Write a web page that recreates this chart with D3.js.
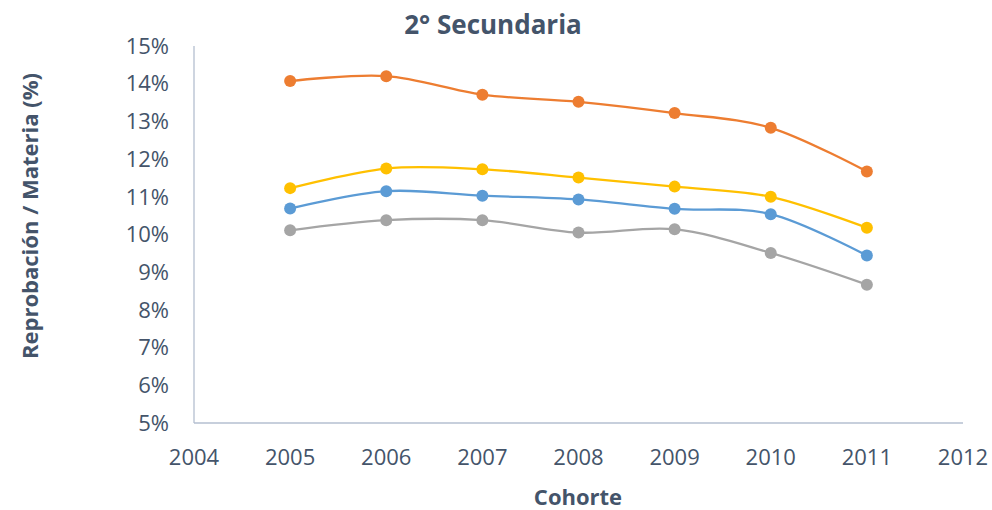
<!DOCTYPE html>
<html><head><meta charset="utf-8">
<script src="https://cdn.jsdelivr.net/npm/d3@7"></script>
<style>body{margin:0;background:#fff;} text{font-family:"Open Sans",sans-serif;fill:#44546A;}</style>
</head><body>
<svg id="c" width="992" height="510"></svg>
<script>
const years = [2005, 2006, 2007, 2008, 2009, 2010, 2011];
const serieNaranja = [14.07, 14.20, 13.71, 13.52, 13.22, 12.83, 11.67];
const serieAmarilla = [11.23, 11.75, 11.73, 11.51, 11.27, 11.00, 10.18];
const serieAzul = [10.69, 11.15, 11.03, 10.93, 10.68, 10.54, 9.44];
const serieGris = [10.11, 10.38, 10.38, 10.05, 10.14, 9.51, 8.67];
const xTicks = [2004, 2005, 2006, 2007, 2008, 2009, 2010, 2011, 2012];
const yTicks = [5, 6, 7, 8, 9, 10, 11, 12, 13, 14, 15];

const series = [
  {values: serieGris, color: "#A5A5A5"},
  {values: serieAzul, color: "#5B9BD5"},
  {values: serieAmarilla, color: "#FFC000"},
  {values: serieNaranja, color: "#ED7D31"}
];

const svg = d3.select("#c");
const x = d3.scaleLinear().domain([2004, 2012]).range([194, 963]);
const y = d3.scaleLinear().domain([5, 15]).range([423, 46]);

// axes
const axisColor = "#B4BFD0";
svg.append("line").attr("x1", x(2004)).attr("x2", x(2012)).attr("y1", y(5)).attr("y2", y(5))
  .attr("stroke", axisColor).attr("stroke-width", 1.3);
svg.append("line").attr("x1", x(2004)).attr("x2", x(2004)).attr("y1", y(5)).attr("y2", y(15))
  .attr("stroke", axisColor).attr("stroke-width", 1.3);

svg.selectAll(".yt").data(yTicks).enter().append("text")
  .attr("x", 169).attr("y", d => y(d)).attr("dy", "0.35em")
  .attr("text-anchor", "end").style("font-size", "22px").text(d => d + "%");
svg.selectAll(".xt").data(xTicks).enter().append("text")
  .attr("x", d => x(d)).attr("y", 457).attr("dy", "0.35em")
  .attr("text-anchor", "middle").style("font-size", "22px").text(d => d);

// lines
const line = d3.line().x((d, i) => x(years[i])).y(d => y(d)).curve(d3.curveCardinal.tension(0));
series.forEach(s => {
  svg.append("path").attr("d", line(s.values)).attr("fill", "none")
    .attr("stroke", s.color).attr("stroke-width", 2.3);
  svg.selectAll(null).data(s.values).enter().append("circle")
    .attr("cx", (d, i) => x(years[i])).attr("cy", d => y(d)).attr("r", 6)
    .attr("fill", s.color);
});

// titles
svg.append("text").attr("x", 493).attr("y", 25).attr("dy", "0.35em").attr("text-anchor", "middle")
  .style("font-size", "26px").style("font-weight", "bold").text("2° Secundaria");
svg.append("text").attr("x", 578).attr("y", 497).attr("dy", "0.35em").attr("text-anchor", "middle")
  .style("font-size", "22px").style("font-weight", "bold").text("Cohorte");
svg.append("text").attr("transform", "translate(30,216) rotate(-90)").attr("dy", "0.35em")
  .attr("text-anchor", "middle").style("font-size", "22px").style("font-weight", "bold")
  .text("Reprobación / Materia (%)");
</script>
</body></html>
